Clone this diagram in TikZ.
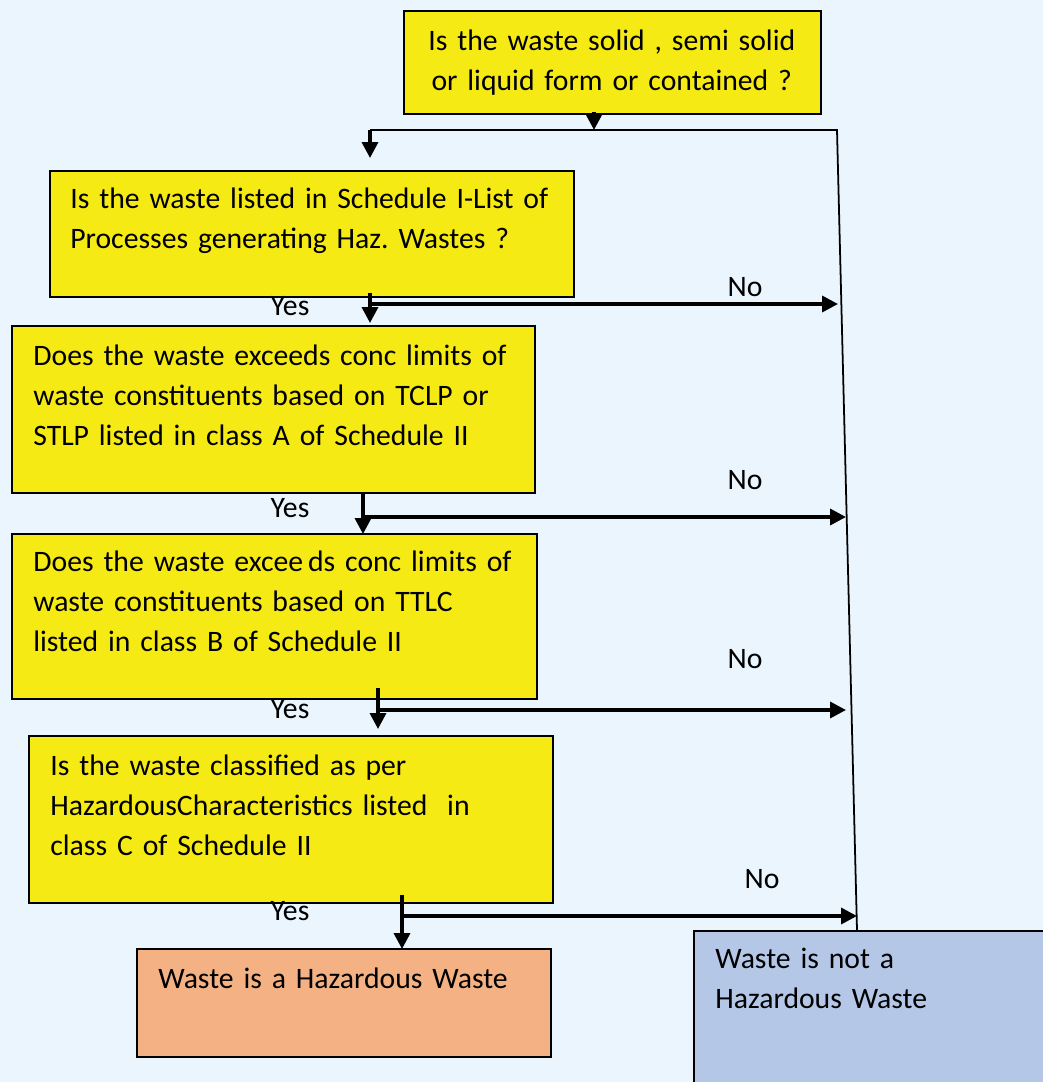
\documentclass[tikz,border=0pt]{standalone}
\usepackage{fontspec}
\setmainfont[WordSpace=0.7]{Carlito}
\frenchspacing
\usepackage{tikz}
\usetikzlibrary{arrows.meta}
\definecolor{bgblue}{RGB}{234,245,254}
\definecolor{qyellow}{RGB}{245,234,20}
\definecolor{hazorange}{RGB}{244,177,131}
\definecolor{okblue}{RGB}{180,199,231}
\tikzstyle{qbox} = [draw=black, line width=1.1pt, fill=qyellow, anchor=north west, inner sep=0pt]
\tikzstyle{txt} = [anchor=base west, inner sep=0pt, text width=10.5cm, align=left, font=\fontsize{16.9pt}{23pt}\selectfont]
\tikzstyle{lbl} = [inner sep=0pt, font=\fontsize{16.9pt}{23pt}\selectfont]
\tikzstyle{flow} = [line width=2pt, -{Triangle[width=9pt,length=9pt]}]
\tikzstyle{rail} = [line width=1pt]

\begin{document}
\begin{tikzpicture}[x=0.02cm,y=-0.02cm]
				\useasboundingbox (0,0) rectangle (1043,1082);
				\fill[bgblue] (0,0) rectangle (1043,1082);
				\node[qbox, minimum width=8.34cm, minimum height=2.06cm] (top) at (403,10) {};
				\node[txt, text width=8.34cm, align=center] (ttop) at (403,50) {Is the waste solid , semi solid\\or liquid form or contained ?};
				\node[qbox, minimum width=10.48cm, minimum height=2.52cm] (q1) at (49,170) {};
				\node[txt] (t1) at (70,208) {Is the waste listed in Schedule I-List of\\Processes generating Haz. Wastes ?};
				\node[qbox, minimum width=10.46cm, minimum height=3.34cm] (q2) at (11,325) {};
				\node[txt] (t2) at (33,365) {Does the waste exceeds conc limits of\\waste constituents based on TCLP or\\STLP listed in class A of Schedule II};
				\node[qbox, minimum width=10.5cm, minimum height=3.3cm] (q3) at (11,533) {};
				\node[txt] (t3) at (33,571) {Does the waste excee\,ds conc limits of\\waste constituents based on TTLC\\listed in class B of Schedule II};
				\node[qbox, minimum width=10.48cm, minimum height=3.34cm] (q4) at (28,735) {};
				\node[txt] (t4) at (50,775) {Is the waste classified as per\\HazardousCharacteristics listed\ \ in\\class C of Schedule II};
				\node[qbox, fill=hazorange, minimum width=8.28cm, minimum height=2.16cm] (haz) at (136,948) {};
				\node[txt] (thaz) at (158,988) {Waste is a Hazardous Waste};
				\node[qbox, fill=okblue, minimum width=7.4cm, minimum height=3.3cm] (nohaz) at (693,930) {};
				\node[txt] (tnohaz) at (715,968) {Waste is not a\\Hazardous Waste};

				\coordinate (s0) at (594,112);
				\coordinate (j0) at (594,130);
				\coordinate (l0) at (370,130);
				\coordinate (r0) at (837,130);
				\coordinate (r4) at (857,930);
				\coordinate (e0) at (370,158);
				\coordinate (d1) at (370,293);
				\coordinate (e1) at (370,323);
				\coordinate (h1) at (370,304);
				\coordinate (n1) at (838,304);
				\coordinate (d2) at (363,492);
				\coordinate (e2) at (363,534);
				\coordinate (h2) at (363,517);
				\coordinate (n2) at (846,517);
				\coordinate (d3) at (378,688);
				\coordinate (e3) at (378,729);
				\coordinate (h3) at (378,710);
				\coordinate (n3) at (846,710);
				\coordinate (d4) at (402,895);
				\coordinate (e4) at (402,949);
				\coordinate (h4) at (402,916);
				\coordinate (n4) at (857,916);

				\draw[flow] (s0) -- (j0);
				\draw[rail] (l0) -- (r0) -- (r4);
				\draw[flow] (l0) -- (e0);
				\draw[flow] (d1) -- (e1);
				\draw[flow] (h1) -- (n1);
				\draw[flow] (d2) -- (e2);
				\draw[flow] (h2) -- (n2);
				\draw[flow] (d3) -- (e3);
				\draw[flow] (h3) -- (n3);
				\draw[flow] (d4) -- (e4);
				\draw[flow] (h4) -- (n4);

				\node[lbl] (yes1) at (290,306) {Yes};
				\node[lbl] (no1) at (745,287) {No};
				\node[lbl] (yes2) at (290,508) {Yes};
				\node[lbl] (no2) at (745,480) {No};
				\node[lbl] (yes3) at (290,709) {Yes};
				\node[lbl] (no3) at (745,659) {No};
				\node[lbl] (yes4) at (290,911) {Yes};
				\node[lbl] (no4) at (762,879) {No};
			\end{tikzpicture}
\end{document}
